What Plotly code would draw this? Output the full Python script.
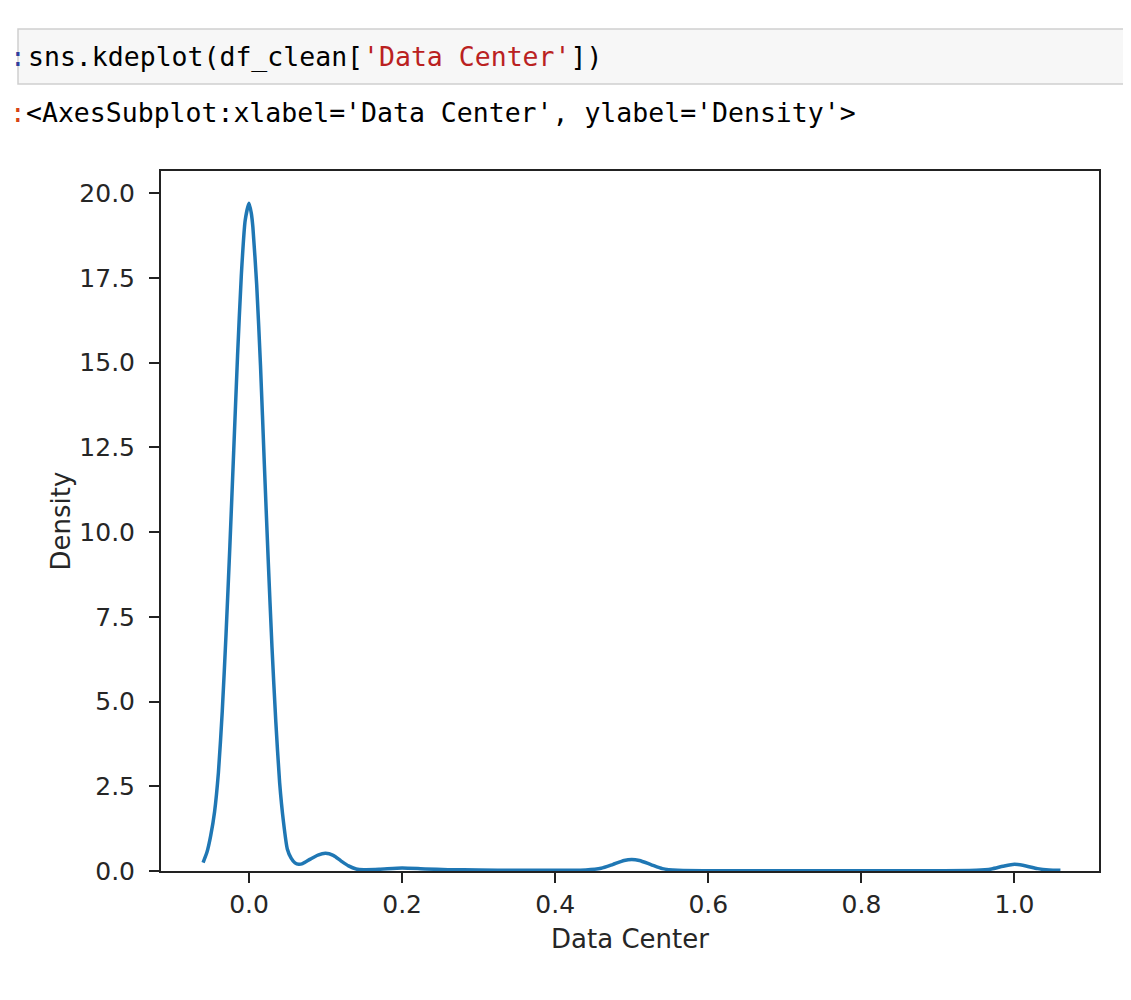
import plotly.graph_objects as go

# ---- data (KDE curve of 'Data Center') ----
kde_x = [-0.060, -0.055, -0.050, -0.045, -0.040, -0.035, -0.030, -0.025, -0.020, -0.015,
         -0.010, -0.005, 0.000, 0.003, 0.005, 0.010, 0.015, 0.020, 0.025, 0.030,
         0.035, 0.040, 0.045, 0.050, 0.055, 0.060, 0.065, 0.070, 0.080, 0.090,
         0.100, 0.110, 0.120, 0.130, 0.140, 0.150, 0.170, 0.200, 0.230, 0.260,
         0.300, 0.350, 0.400, 0.440, 0.460, 0.475, 0.490, 0.500, 0.510, 0.525,
         0.540, 0.560, 0.600, 0.700, 0.800, 0.900, 0.950, 0.970, 0.985, 1.000,
         1.015, 1.030, 1.045, 1.060]
kde_y = [0.25, 0.55, 1.05, 1.75, 2.9, 4.7, 7.0, 9.6, 12.4, 15.2,
         17.6, 19.2, 19.7, 19.4, 19.0, 17.3, 14.9, 12.0, 9.2, 6.6,
         4.4, 2.6, 1.45, 0.65, 0.38, 0.24, 0.20, 0.22, 0.35, 0.47,
         0.52, 0.46, 0.30, 0.15, 0.06, 0.04, 0.05, 0.09, 0.06, 0.04,
         0.03, 0.02, 0.02, 0.03, 0.08, 0.19, 0.31, 0.34, 0.31, 0.19,
         0.07, 0.02, 0.01, 0.01, 0.01, 0.01, 0.02, 0.06, 0.14, 0.20,
         0.15, 0.07, 0.03, 0.02]

x_ticks = [0.0, 0.2, 0.4, 0.6, 0.8, 1.0]
x_tick_labels = ["0.0", "0.2", "0.4", "0.6", "0.8", "1.0"]
y_ticks = [0.0, 2.5, 5.0, 7.5, 10.0, 12.5, 15.0, 17.5, 20.0]
y_tick_labels = ["0.0", "2.5", "5.0", "7.5", "10.0", "12.5", "15.0", "17.5", "20.0"]

code_prefix = "sns.kdeplot(df_clean["
code_string = "'Data Center'"
code_suffix = "])"
output_text = "&lt;AxesSubplot:xlabel='Data Center', ylabel='Density'&gt;"
x_label = "Data Center"
y_label = "Density"

# the page body has an 8px margin; size the figure to fit the window
OFF = 8
W, H = 1131 - OFF, 1000 - OFF


def px(x):
    return (x - OFF) / W


def py(y):
    return 1 - (y - OFF) / H


fig = go.Figure()
fig.add_trace(go.Scatter(
    x=kde_x, y=kde_y, mode="lines",
    line=dict(color="#1f77b4", width=3.5, shape="spline", smoothing=0.6),
    showlegend=False, hoverinfo="skip",
))

tick_font = dict(family="DejaVu Sans", size=25, color="#262626")
label_font = dict(family="DejaVu Sans", size=26, color="#262626")

fig.update_layout(
    width=W, height=H,
    margin=dict(l=0, r=0, t=0, b=0),
    paper_bgcolor="white", plot_bgcolor="white",
    showlegend=False,
    xaxis=dict(
        domain=[px(161), px(1099)],
        range=[-0.115, 1.1104],
        tickvals=x_ticks, ticktext=x_tick_labels,
        ticks="outside", ticklen=10, tickwidth=2, tickcolor="#222",
        showline=True, linecolor="#222", linewidth=2, mirror=True,
        showgrid=False, zeroline=False, automargin=False,
        tickfont=tick_font, ticklabelstandoff=0,
        title=dict(text=x_label, font=label_font, standoff=12),
    ),
    yaxis=dict(
        domain=[py(871), py(171)],
        range=[0, 20.65],
        tickvals=y_ticks, ticktext=y_tick_labels,
        ticks="outside", ticklen=10, tickwidth=2, tickcolor="#222",
        showline=True, linecolor="#222", linewidth=2, mirror=True,
        showgrid=False, zeroline=False, automargin=False,
        tickfont=tick_font, ticklabelstandoff=9,
        title=dict(text=y_label, font=label_font, standoff=1),
    ),
)

# Notebook code cell box
fig.add_shape(type="rect", xref="paper", yref="paper",
              x0=px(18), x1=px(1140), y0=py(84), y1=py(29),
              fillcolor="#f7f7f7", line=dict(color="#cfcfcf", width=1.5), layer="below")

mono = "DejaVu Sans Mono"
fig.add_annotation(
    xref="paper", yref="paper", x=px(26), y=py(57), xanchor="left", yanchor="middle",
    text=code_prefix + "<span style='color:#BA2121'>" + code_string + "</span>" + code_suffix,
    showarrow=False, font=dict(family=mono, size=26.5, color="#000000"),
)
fig.add_annotation(
    xref="paper", yref="paper", x=px(OFF), y=py(57), xanchor="left", yanchor="middle",
    text=":", showarrow=False, font=dict(family=mono, size=26, color="#303F9F"),
)
fig.add_annotation(
    xref="paper", yref="paper", x=px(OFF), y=py(113), xanchor="left", yanchor="middle",
    text=":", showarrow=False, font=dict(family=mono, size=26, color="#D84315"),
)
fig.add_annotation(
    xref="paper", yref="paper", x=px(24), y=py(113), xanchor="left", yanchor="middle",
    text=output_text, showarrow=False, font=dict(family=mono, size=26.5, color="#000000"),
)

fig.write_html("out.html")
